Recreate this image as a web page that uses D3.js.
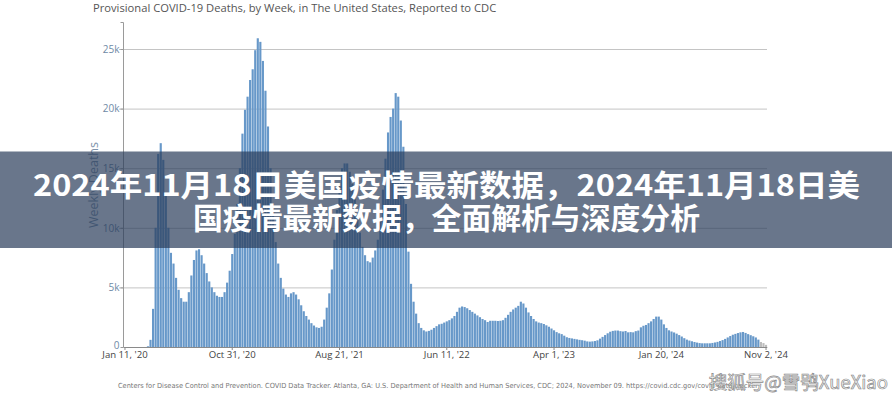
<!DOCTYPE html>
<html><head><meta charset="utf-8">
<script src="https://cdn.jsdelivr.net/npm/d3@7/dist/d3.min.js"></script>
<style>
html,body{margin:0;padding:0;background:#fff;}
svg{display:block;}
</style></head>
<body>
<script>
// ---- data ----
const startWeek = "2020-01-11";
const weeklyDeaths = [
0,0,0,0,0,0,0,0,0,60,
600,3200,10000,16200,17100,15700,12800,10000,7900,7000,
5800,4800,4100,3800,3800,4600,6000,7300,8100,8200,
7700,7000,6200,5500,5000,4600,4300,4200,4200,4600,
5400,6400,7800,9500,12000,15000,17900,19900,21000,22400,
23300,24900,25900,25600,24000,21500,18500,15000,11500,8800,
7000,5800,4900,4400,4200,4500,4600,4400,4000,3500,
3000,2600,2300,2000,1800,1650,1600,1700,2300,3300,
4500,6500,9000,11500,13500,15000,15400,15400,14700,13700,
12400,11000,9600,8400,7700,7200,7100,7500,8100,9000,
10800,13200,15800,18000,19300,20000,21300,21000,19000,16800,
12000,8000,5300,3800,2800,2000,1600,1400,1300,1350,
1450,1600,1750,1900,1950,2050,2150,2250,2400,2600,
2950,3300,3400,3350,3250,3100,2950,2800,2650,2500,
2350,2250,2100,2200,2200,2200,2180,2200,2250,2450,
2700,2950,3150,3300,3450,3800,3650,3300,2900,2600,
2350,2150,2050,2000,1930,1820,1700,1550,1400,1250,
1150,1080,950,820,760,720,680,640,600,570,
530,470,450,470,500,560,700,850,1000,1150,
1280,1350,1380,1380,1330,1300,1340,1230,1250,1230,
1330,1380,1650,1780,1850,2000,2150,2350,2550,2550,
2300,1900,1600,1400,1300,1220,1120,1000,880,740,
620,540,480,420,370,330,310,310,310,310,
340,380,430,500,580,680,800,920,1030,1100,
1170,1230,1260,1180,1080,990,900,800,620,420,
330,180
];
const provisionalCount = 3; // last weeks shown in grey (incomplete)
const xTickDates = ["2020-01-11","2020-10-31","2021-08-21","2022-06-11","2023-04-01","2024-01-20","2024-11-02"];
const yTicks = [0,5000,10000,15000,20000,25000];
const chartTitle = "Provisional COVID-19 Deaths, by Week, in The United States, Reported to CDC";
const yTitle = "Weekly Deaths";
const sourceText = "Centers for Disease Control and Prevention. COVID Data Tracker. Atlanta, GA: U.S. Department of Health and Human Services, CDC; 2024, November 09. https://covid.cdc.gov/covid-data-tracker";
const bannerLines = ["2024年11月18日美国疫情最新数据，2024年11月18日美","国疫情最新数据，全面解析与深度分析"];
const watermark = "搜狐号@雪鸮XueXiao";

// ---- build ----
const W = 892, H = 400;
const parse = d3.utcParse("%Y-%m-%d");
const t0 = parse(startWeek);
const weeks = weeklyDeaths.map((v,i)=>({date: d3.utcWeek.offset(t0, i), value: v, i}));
const keyFmt = d3.utcFormat("%Y-%m-%d");

const svg = d3.select("body").append("svg").attr("width",W).attr("height",H);
const font = "'Open Sans', 'Noto Sans', sans-serif";

const x = d3.scaleBand().domain(weeks.map(d=>keyFmt(d.date))).range([123.7, 767.3]).paddingInner(0.16).paddingOuter(0.08);
const y = d3.scaleLinear().domain([0, 27265]).range([347, 22]);

// title
svg.append("text").attr("x",93).attr("y",11.5).attr("font-family",font).attr("font-size",11.2)
  .attr("fill","#555").text(chartTitle);

// grid
svg.append("g").selectAll("line").data(yTicks.filter(d=>d>0)).join("line")
  .attr("x1",119).attr("x2",767).attr("y1",d=>y(d)+0.5).attr("y2",d=>y(d)+0.5)
  .attr("stroke","#c4c4c4").attr("stroke-width",1);

// y axis
const yAxis = svg.append("g").attr("transform","translate(123.5,0)")
  .call(d3.axisLeft(y).tickValues(yTicks).tickSize(3).tickFormat(d=> d===0 ? "0" : (d/1000)+"k"));
yAxis.select(".domain").attr("stroke","#9a9a9a").attr("d","M-3,22.5H0V347");
yAxis.selectAll(".tick line").attr("stroke","#9a9a9a");
yAxis.selectAll(".tick text").attr("font-family",font).attr("font-size",10).attr("fill","#6f8aa6").attr("x",-4);
yAxis.selectAll(".tick").filter(d=>d===0).select("text").attr("dy","0.1em");

// bars
svg.append("g").selectAll("rect").data(weeks).join("rect")
  .attr("x",d=>x(keyFmt(d.date))).attr("width",x.bandwidth())
  .attr("y",d=>y(d.value)).attr("height",d=>y(0)-y(d.value))
  .attr("fill",d=> d.i >= weeks.length - provisionalCount ? "#bdbdbd" : "#6798c9");

// x axis
const xAxis = svg.append("g").attr("transform","translate(0,347)")
  .call(d3.axisBottom(x).tickValues(xTickDates).tickSize(3)
    .tickFormat(s=> d3.utcFormat("%b %-d, '%y")(parse(s))));
xAxis.select(".domain").attr("stroke","#8a8a8a").attr("d","M123.5,0.5H767.3");
xAxis.selectAll(".tick line").attr("stroke","#8a8a8a");
xAxis.selectAll(".tick text").attr("font-family",font).attr("font-size",9.6).attr("fill","#444").attr("y",4);

// y title
svg.append("text").attr("transform","translate(98,185) rotate(-90)").attr("text-anchor","middle")
  .attr("font-family",font).attr("font-size",12.5).attr("fill","#7d93aa").text(yTitle);

// source
svg.append("text").attr("x",118).attr("y",388).attr("font-family","'Liberation Sans Narrow','DejaVu Sans Condensed',sans-serif")
  .attr("font-size",7).attr("fill","#777").attr("textLength",640).attr("lengthAdjust","spacingAndGlyphs").text(sourceText);

// banner
svg.append("rect").attr("x",0).attr("y",151.5).attr("width",W).attr("height",96.5).attr("fill","rgba(42,60,90,0.7)");
const bannerWidths = [827, 507];
svg.append("g").selectAll("text").data(bannerLines).join("text")
  .attr("x",(d,i)=> i===0 ? 33 : 193).attr("y",(d,i)=>196+i*33)
  .attr("textLength",(d,i)=>bannerWidths[i]).attr("lengthAdjust","spacingAndGlyphs")
  .attr("font-family","'Noto Sans CJK SC', sans-serif").attr("font-weight",700).attr("font-size",29.5)
  .attr("fill","#fff").text(d=>d);

// watermark
svg.append("text").attr("x",888).attr("y",389).attr("text-anchor","end")
  .attr("font-family","'Noto Sans CJK SC', sans-serif").attr("font-size",18.5)
  .attr("fill","rgba(255,255,255,0.85)").attr("stroke","#8a8a8a").attr("stroke-width",0.7)
  .text(watermark);
</script>
</body></html>
